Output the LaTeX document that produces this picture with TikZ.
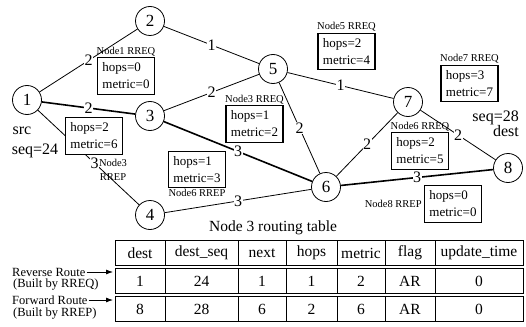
\documentclass[tikz,border=0pt]{standalone}
\usepackage{fontspec}
\setmainfont{Liberation Serif}
\usetikzlibrary{positioning,arrows.meta}

\tikzset{
  router/.style={circle, draw, line width=0.8pt, minimum size=29pt, inner sep=0pt, font=\fontsize{17}{17}\selectfont},
  link/.style={line width=0.8pt},
  route/.style={line width=1.6pt},
  cost/.style={fill=white, inner sep=0.5pt, font=\fontsize{16}{16}\selectfont},
  infobox/.style={draw, fill=white, line width=1.1pt, align=left, inner xsep=5pt, inner ysep=5pt, font=\fontsize{13}{17}\selectfont},
  tag/.style={inner sep=1pt, font=\fontsize{10.5}{11}\selectfont},
  side/.style={inner sep=1pt, anchor=west, font=\fontsize{12.5}{12.5}\selectfont},
  cell/.style={inner sep=1pt, font=\fontsize{15.5}{15.5}\selectfont},
}

\begin{document}
\begin{tikzpicture}[x=1pt, y=-1pt]
  \useasboundingbox (0,0) rectangle (526,326);
  % Routers
  \node[router] (n1) at (27,100) {1};
  \node[router] (n2) at (150,21) {2};
  \node[router] (n3) at (150,116) {3};
  \node[router] (n4) at (150,215) {4};
  \node[router] (n5) at (273,69) {5};
  \node[router] (n6) at (326,187) {6};
  \node[router] (n7) at (408,102) {7};
  \node[router] (n8) at (508,168) {8};
  % Links, the chosen route 1-3-6-8 is thick
  \draw[link]  (n1) -- node[cost] {2} (n2);
  \draw[link]  (n2) -- node[cost] {1} (n5);
  \draw[route] (n1) -- node[cost] {2} (n3);
  \draw[link]  (n3) -- node[cost] {2} (n5);
  \draw[route] (n3) -- node[cost] {3} (n6);
  \draw[link]  (n5) -- node[cost] {1} (n7);
  \draw[link]  (n5) -- node[cost] {2} (n6);
  \draw[link]  (n6) -- node[cost] {2} (n7);
  \draw[link]  (n7) -- node[cost] {2} (n8);
  \draw[link]  (n1) -- node[cost, pos=0.56] {3} (n4);
  \draw[link]  (n4) -- node[cost] {3} (n6);
  \draw[route] (n6) -- node[cost] {3} (n8);
  % End points
  \node[font=\fontsize{16}{16}\selectfont, inner sep=1pt] (src) at (22,131) {src};
  \node[font=\fontsize{16}{16}\selectfont, inner sep=1pt] (seqs) at (35,151) {seq=24};
  \node[font=\fontsize{16}{14}\selectfont, inner sep=1pt, align=right, anchor=east] (dst) at (520,124) {seq=28\\dest};
  % RREQ / RREP boxes
  \node[infobox] (rreq1) at (126,76) {hops=0\\metric=0};
  \node[tag, above=0pt of rreq1] (t1) {Node1 RREQ};
  \node[infobox] (rrep3) at (94,136) {hops=2\\metric=6};
  \node[tag, align=center, font=\fontsize{10.5}{14}\selectfont] (t3p) at (113,170) {Node3\\RREP};
  \node[infobox] (rreq3) at (254.5,124) {hops=1\\metric=2};
  \node[tag, above=0pt of rreq3] (t3) {Node3 RREQ};
  \node[infobox] (rrep6) at (197,169.5) {hops=1\\metric=3};
  \node[tag, below=0pt of rrep6] (t6p) {Node6 RREP};
  \node[infobox] (rreq5) at (346.5,51.5) {hops=2\\metric=4};
  \node[tag, above=0pt of rreq5] (t5) {Node5 RREQ};
  \node[infobox] (rreq7) at (469.5,83.5) {hops=3\\metric=7};
  \node[tag, above=0pt of rreq7] (t7) {Node7 RREQ};
  \node[infobox] (rreq6) at (420,151) {hops=2\\metric=5};
  \node[tag, above=0pt of rreq6] (t6) {Node6 RREQ};
  \node[infobox] (rrep8) at (453,204) {hops=0\\metric=0};
  \node[tag, left=1pt of rrep8] (t8) {Node8 RREP};
  % Routing table of node 3
  \node[font=\fontsize{15.5}{15.5}\selectfont] (cap) at (273,228) {Node 3 routing table};
  \foreach \top/\bot in {240/265, 268/293, 296/321} {
    \draw[line width=0.8pt] (115,\top) rectangle (523,\bot);
    \foreach \x in {165,238,286,337,385,435} { \draw[line width=0.8pt] (\x,\top) -- (\x,\bot); }
  }
  \foreach \xc/\txt [count=\i] in {140/dest, 201.5/dest\_seq, 262/next, 311.5/hops, 361/metric, 410/flag, 479/update\_time}
    \node[cell] (h\i) at (\xc,253) {\txt};
  \foreach \xc/\txt [count=\i] in {140/1, 201.5/24, 262/1, 311.5/1, 361/2, 410/AR, 479/0}
    \node[cell] (r\i) at (\xc,281) {\txt};
  \foreach \xc/\txt [count=\i] in {140/8, 201.5/28, 262/6, 311.5/2, 361/6, 410/AR, 479/0}
    \node[cell] (f\i) at (\xc,309) {\txt};
  % Row notes
  \node[side] (rev) at (11,272) {Reverse Route};
  \node[side] (revb) at (12,285) {(Built by RREQ)};
  \node[side] (fwd) at (11,300) {Forward Route};
  \node[side] (fwdb) at (12,314) {(Built by RREP)};
  \coordinate (revin) at (113,272);
  \coordinate (fwdin) at (113,300);
  \draw[line width=0.8pt, -{Latex[length=7pt,width=5pt]}] (rev.east) -- (revin);
  \draw[line width=0.8pt, -{Latex[length=7pt,width=5pt]}] (fwd.east) -- (fwdin);
\end{tikzpicture}
\end{document}
